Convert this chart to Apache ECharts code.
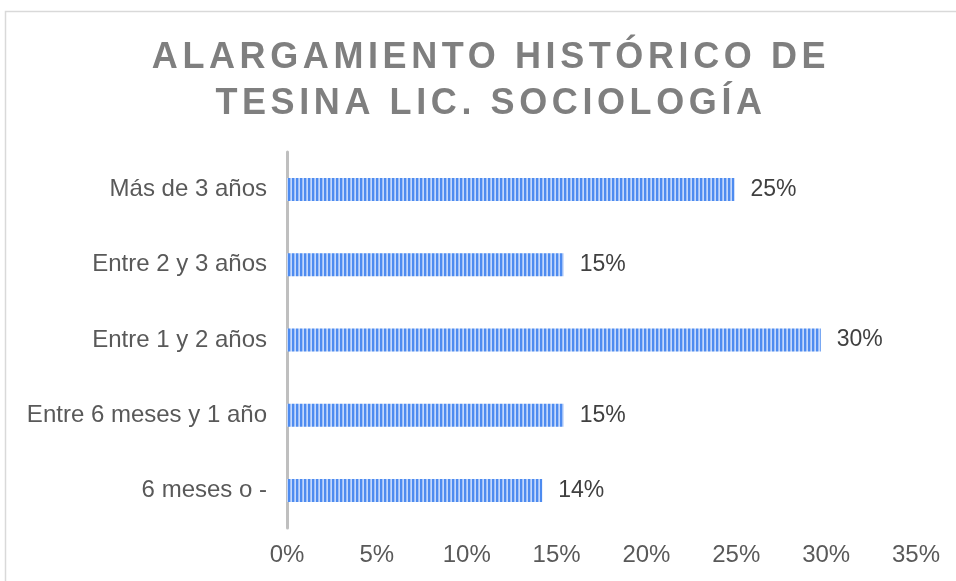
<!DOCTYPE html>
<html>
<head>
<meta charset="utf-8">
<script src="https://cdn.jsdelivr.net/npm/echarts@6/dist/echarts.min.js"></script>
<style>
  html, body { margin: 0; padding: 0; background: #fff; }
  #chart { width: 956px; height: 581px; }
</style>
</head>
<body>
<div id="chart"></div>
<script>
// datos (de abajo hacia arriba)
const categories = ['6 meses o -', 'Entre 6 meses y 1 año', 'Entre 1 y 2 años', 'Entre 2 y 3 años', 'Más de 3 años']
const values = [0.142, 0.154, 0.297, 0.154, 0.249]
const titleText = 'ALARGAMIENTO HISTÓRICO DE\nTESINA LIC. SOCIOLOGÍA'

// espaciado entre letras solo para el titulo (36px)
const origFillText = CanvasRenderingContext2D.prototype.fillText
CanvasRenderingContext2D.prototype.fillText = function (...args) {
  if (this.font && this.font.indexOf('36px') > -1) {
    const prev = this.letterSpacing
    this.letterSpacing = '4.6px'
    origFillText.apply(this, args)
    this.letterSpacing = prev
    return
  }
  return origFillText.apply(this, args)
}

// relleno rayado vertical como en Excel
const makeStripes = () => {
  const c = document.createElement('canvas')
  c.width = 4
  c.height = 4
  const ctx = c.getContext('2d')
  ctx.fillStyle = '#4d8bf0'
  ctx.fillRect(0, 0, 4, 4)
  ctx.fillStyle = '#9fc0f8'
  ctx.fillRect(2, 0, 1, 4)
  ctx.fillStyle = '#c4d8fb'
  ctx.fillRect(3, 0, 1, 4)
  return c
}

const font = "'Liberation Sans', Arial, sans-serif"
const chart = echarts.init(document.getElementById('chart'))

const option = {
  backgroundColor: '#fff',
  animation: false,
  title: {
    text: titleText,
    left: 486,
    textAlign: 'center',
    top: 30,
    textStyle: {
      fontFamily: font,
      fontSize: 36,
      fontWeight: 'bold',
      color: '#7f7f7f',
      lineHeight: 46
    }
  },
  graphic: [{
    type: 'rect',
    shape: { x: 5.5, y: 11.5, width: 1000, height: 700 },
    style: { fill: 'none', stroke: '#d9d9d9', lineWidth: 1.5 },
    silent: true,
    z: -10
  }],
  grid: { left: 287, right: 40, top: 152, bottom: 53 },
  xAxis: {
    type: 'value',
    min: 0,
    max: 0.35,
    interval: 0.05,
    axisLine: { show: false },
    axisTick: { show: false },
    splitLine: { show: false },
    axisLabel: {
      margin: 15,
      fontFamily: font,
      fontSize: 24,
      color: '#595959',
      formatter: (v) => Math.round(v * 100) + '%'
    }
  },
  yAxis: {
    type: 'category',
    data: categories,
    axisLine: { show: true, lineStyle: { color: '#bfbfbf', width: 3 } },
    axisTick: { show: false },
    axisLabel: {
      margin: 20,
      fontFamily: font,
      fontSize: 24,
      color: '#595959'
    }
  },
  series: [{
    type: 'bar',
    data: values,
    barWidth: 23,
    itemStyle: { color: { image: makeStripes(), repeat: 'repeat' } },
    label: {
      show: true,
      position: 'right',
      distance: 16,
      fontFamily: font,
      fontSize: 23,
      color: '#404040',
      formatter: (p) => Math.round(p.value * 100) + '%'
    }
  }]
}

chart.setOption(option)
</script>
</body>
</html>
